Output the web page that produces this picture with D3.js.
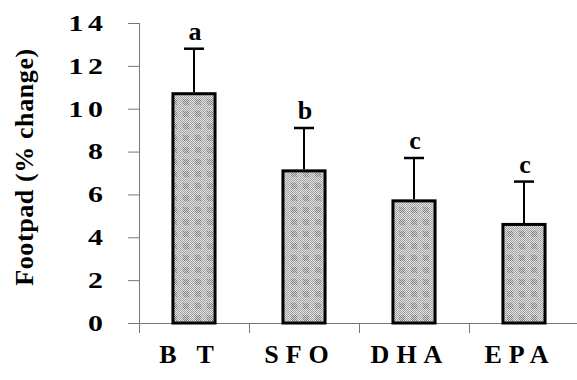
<!DOCTYPE html>
<html>
<head>
<meta charset="utf-8">
<script src="https://cdn.jsdelivr.net/npm/d3@7"></script>
<style>
  html, body { margin: 0; padding: 0; background: #fff; }
  svg { display: block; }
  text { font-family: "Liberation Serif", "Times New Roman", serif; font-weight: bold; fill: #000; }
</style>
</head>
<body>
<svg id="chart" width="577" height="380"></svg>
<script>
const categories = ["BT", "SFO", "DHA", "EPA"];
const xLabels = ["B T", "SFO", "DHA", "EPA"];
const means = [10.7, 7.1, 5.7, 4.6];
const upper = [12.8, 9.1, 7.7, 6.6];
const letters = ["a", "b", "c", "c"];
const yTicks = [0, 2, 4, 6, 8, 10, 12, 14];
const yTitle = "Footpad (% change)";

const svg = d3.select("#chart");
const W = 577, H = 380;
const mLeft = 139, mRight = 579, mTop = 23, mBottom = 323;

const y = d3.scaleLinear().domain([0, 14]).range([mBottom, mTop]);
const x = d3.scaleBand().domain(categories).range([mLeft, mRight])
  .paddingInner(0.59).paddingOuter(0.295);

// texture pattern
const defs = svg.append("defs");
const pat = defs.append("pattern").attr("id", "tex").attr("patternUnits", "userSpaceOnUse")
  .attr("width", 12).attr("height", 12);
pat.append("rect").attr("width", 12).attr("height", 12).attr("fill", "#dcdcdc");
for (let i = 0; i < 12; i++) {
  for (let j = 0; j < 12; j++) {
    if ((i + j) % 2 === 0) {
      const dark = (i >= 3 && i <= 8 && j >= 3 && j <= 8);
      pat.append("rect").attr("x", i).attr("y", j).attr("width", 1).attr("height", 1)
        .attr("fill", dark ? "#7a7a7a" : "#a6a6a6");
    }
  }
}

// y axis ticks (lines via d3 axis)
const yAxis = d3.axisLeft(y).tickValues(yTicks).tickSize(11).tickFormat("");
const gy = svg.append("g").attr("transform", `translate(${mLeft},0)`).call(yAxis);
gy.select(".domain").remove();
gy.selectAll(".tick line").attr("stroke", "#777").attr("stroke-width", 1);
gy.selectAll(".tick text").remove();

// y tick labels (slightly wide, letter-spaced as in the scan)
const ls = 3.5, sx = 1.3;
svg.selectAll(".ytl").data(yTicks).enter().append("text")
  .attr("transform", d => `translate(${103 + ls * sx},${y(d)}) scale(${sx},1)`)
  .attr("text-anchor", "end").attr("dy", "0.34em")
  .attr("font-size", 23).attr("letter-spacing", ls)
  .text(d => d3.format("d")(d));

svg.append("line").attr("x1", mLeft + 0.5).attr("x2", mLeft + 0.5)
  .attr("y1", y(14)).attr("y2", y(0) + 10).attr("stroke", "#777").attr("stroke-width", 1);
svg.append("line").attr("x1", mLeft - 11).attr("x2", W)
  .attr("y1", y(0) + 0.5).attr("y2", y(0) + 0.5).attr("stroke", "#777").attr("stroke-width", 1);

// category separator ticks
const step = x.step();
const sepX = categories.map(c => x(c) - x.paddingOuter() * step + step);
svg.selectAll(".sep").data(sepX.slice(0, 3)).enter().append("line")
  .attr("x1", d => d + 0.5).attr("x2", d => d + 0.5)
  .attr("y1", y(0)).attr("y2", y(0) + 10).attr("stroke", "#777").attr("stroke-width", 1);

// bars
const data = categories.map((c, i) => ({ c, m: means[i], u: upper[i], l: letters[i], t: xLabels[i] }));
const bw = x.bandwidth();
svg.selectAll(".bar").data(data).enter().append("rect")
  .attr("x", d => x(d.c) + 1.5).attr("y", d => y(d.m))
  .attr("width", bw - 3).attr("height", d => y(0) - y(d.m))
  .attr("fill", "url(#tex)").attr("stroke", "#000").attr("stroke-width", 3);

// error bars
const cx = d => x(d.c) + bw / 2;
svg.selectAll(".err").data(data).enter().append("line")
  .attr("x1", cx).attr("x2", cx).attr("y1", d => y(d.m) - 1.5).attr("y2", d => y(d.u))
  .attr("stroke", "#000").attr("stroke-width", 2);
svg.selectAll(".cap").data(data).enter().append("line")
  .attr("x1", d => cx(d) - 10).attr("x2", d => cx(d) + 10)
  .attr("y1", d => y(d.u)).attr("y2", d => y(d.u))
  .attr("stroke", "#000").attr("stroke-width", 2.5);

// significance letters
svg.selectAll(".lbl").data(data).enter().append("text")
  .attr("x", d => cx(d) + 1).attr("y", d => y(d.u) - 9)
  .attr("text-anchor", "middle").attr("font-size", 26).text(d => d.l);

// x labels
svg.selectAll(".xl").data(data).enter().append("text")
  .attr("x", d => cx(d) - 4).attr("y", 363)
  .attr("text-anchor", "middle").attr("font-size", 26).attr("letter-spacing", 7)
  .text(d => d.t);

// y title
svg.append("text")
  .attr("transform", `translate(33,167) rotate(-90)`)
  .attr("text-anchor", "middle").attr("font-size", 26).attr("letter-spacing", 0.6)
  .text(yTitle);
</script>
</body>
</html>
